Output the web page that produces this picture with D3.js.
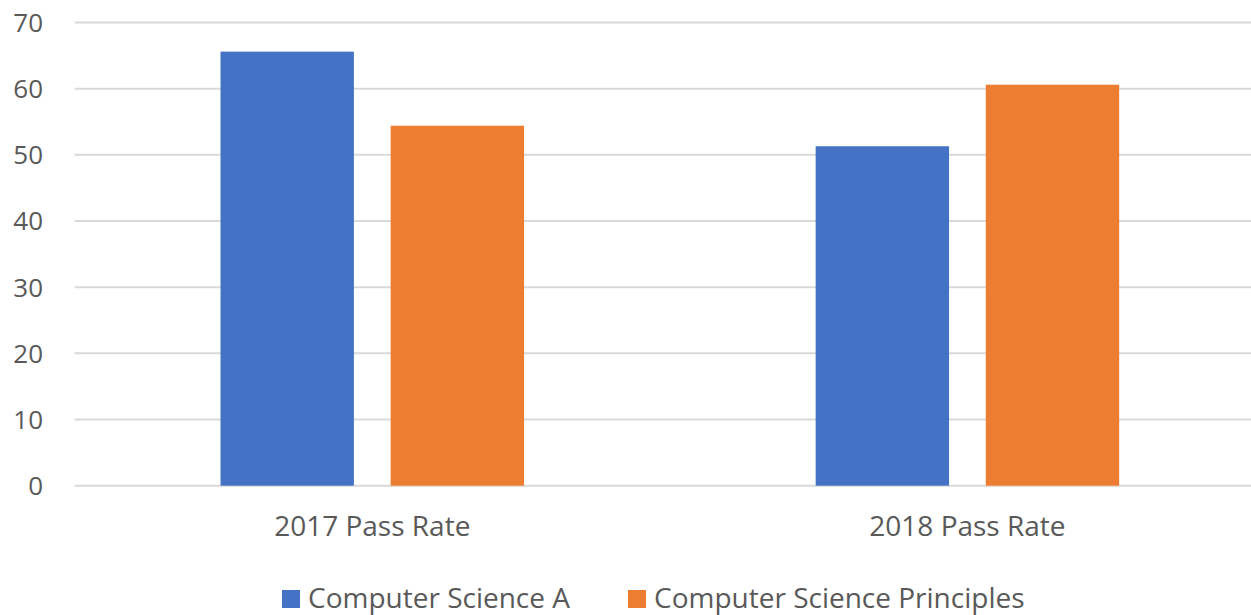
<!DOCTYPE html>
<html>
<head>
<meta charset="utf-8">
<script src="https://cdn.jsdelivr.net/npm/d3@7"></script>
<style>
  body { margin: 0; background: #fff; overflow: hidden; }
  text { font-family: "Open Sans", "Noto Sans", sans-serif; fill: #595959; }
</style>
</head>
<body>
<div id="chart"></div>
<script>
// chart data
var categories = ["2017 Pass Rate", "2018 Pass Rate"];
var seriesNames = ["Computer Science A", "Computer Science Principles"];
var csA = [65.6, 51.3];
var csP = [54.4, 60.6];
var yTicks = [0, 10, 20, 30, 40, 50, 60, 70];
var colors = ["#4472C4", "#ED7D31"];

var width = 1251, height = 615;
// plot area runs past the right edge, like the cropped original
var plotLeft = 74.7, plotRight = 1265, plotTop = 22.5, plotBottom = 485.7;

var svg = d3.select("#chart").append("svg")
    .attr("width", width)
    .attr("height", height);

var y = d3.scaleLinear().domain([0, 70]).range([plotBottom, plotTop]);

var x0 = d3.scaleBand()
    .domain(categories)
    .range([plotLeft, plotRight])
    .paddingInner(0.49)
    .paddingOuter(0.245);

var x1 = d3.scaleBand()
    .domain(seriesNames)
    .range([0, x0.bandwidth()])
    .paddingInner(0.216)
    .paddingOuter(0);

// gridlines
svg.append("g")
  .selectAll("line")
  .data(yTicks)
  .enter()
  .append("line")
    .attr("x1", plotLeft)
    .attr("x2", plotRight)
    .attr("y1", d => y(d))
    .attr("y2", d => y(d))
    .attr("stroke", "#d9d9d9")
    .attr("stroke-width", 2);

// y labels
svg.append("g")
  .selectAll("text")
  .data(yTicks)
  .enter()
  .append("text")
    .attr("x", 43)
    .attr("y", d => y(d))
    .attr("dy", "0.36em")
    .attr("text-anchor", "end")
    .style("font-size", "26px")
    .text(d => d);

// bars
var rows = categories.map((c, i) => ({ cat: c, vals: [csA[i], csP[i]] }));

svg.append("g")
  .selectAll("g")
  .data(rows)
  .enter()
  .append("g")
    .attr("transform", d => "translate(" + x0(d.cat) + ",0)")
  .selectAll("rect")
  .data(d => d.vals.map((v, j) => ({ name: seriesNames[j], v: v, j: j })))
  .enter()
  .append("rect")
    .attr("x", d => x1(d.name))
    .attr("width", x1.bandwidth())
    .attr("y", d => y(d.v))
    .attr("height", d => y(0) - y(d.v))
    .attr("fill", d => colors[d.j]);

// x labels
svg.append("g")
  .selectAll("text")
  .data(categories)
  .enter()
  .append("text")
    .attr("x", d => x0(d) + x0.bandwidth() / 2)
    .attr("y", 536)
    .attr("text-anchor", "middle")
    .style("font-size", "28px")
    .text(d => d);

// legend
var legendX = [282, 628];
var legend = svg.append("g")
  .selectAll("g")
  .data(seriesNames)
  .enter()
  .append("g")
    .attr("transform", (d, i) => "translate(" + legendX[i] + ",0)");

legend.append("rect")
    .attr("x", 0)
    .attr("y", 590)
    .attr("width", 18)
    .attr("height", 18)
    .attr("fill", (d, i) => colors[i]);

legend.append("text")
    .attr("x", 26)
    .attr("y", 608)
    .style("font-size", "28px")
    .text(d => d);
</script>
</body>
</html>
